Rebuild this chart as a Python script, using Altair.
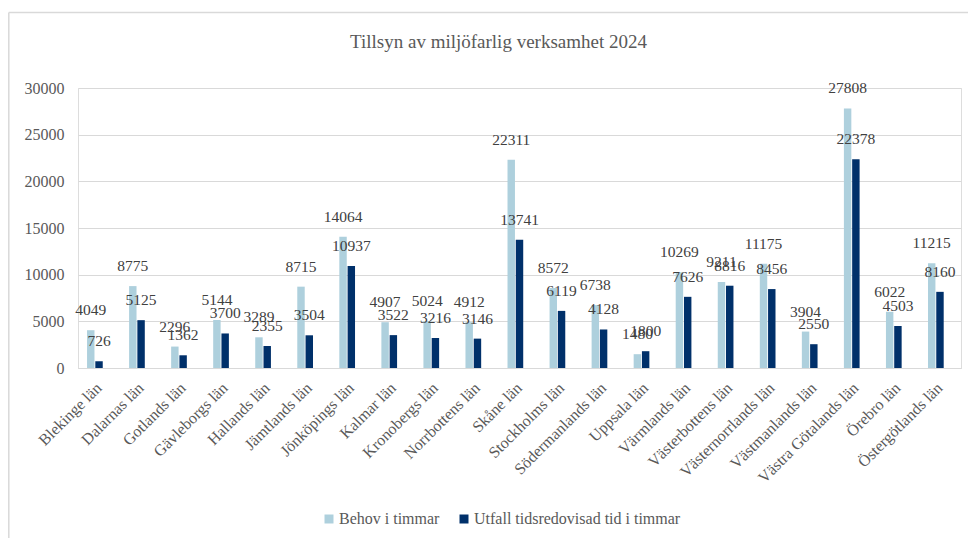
import altair as alt
import pandas as pd

categories = ["Blekinge län", "Dalarnas län", "Gotlands län", "Gävleborgs län", "Hallands län",
              "Jämtlands län", "Jönköpings län", "Kalmar län", "Kronobergs län", "Norrbottens län",
              "Skåne län", "Stockholms län", "Södermanlands län", "Uppsala län", "Värmlands län",
              "Västerbottens län", "Västernorrlands län", "Västmanlands län", "Västra Götalands län",
              "Örebro län", "Östergötlands län"]
behov = [4049, 8775, 2296, 5144, 3289, 8715, 14064, 4907, 5024, 4912, 22311, 8572, 6738, 1480,
         10269, 9211, 11175, 3904, 27808, 6022, 11215]
utfall = [726, 5125, 1362, 3700, 2355, 3504, 10937, 3522, 3216, 3146, 13741, 6119, 4128, 1800,
          7626, 8816, 8456, 2550, 22378, 4503, 8160]
series = ["Behov i timmar", "Utfall tidsredovisad tid i timmar"]
colors = ["#AED0DD", "#00306A"]

rows = []
for c, b, u in zip(categories, behov, utfall):
    rows.append({"lan": c, "serie": series[0], "varde": b})
    rows.append({"lan": c, "serie": series[1], "varde": u})
df = pd.DataFrame(rows)

font = "Liberation Serif"
gray = "#595959"

x_enc = alt.X("lan:N", sort=categories, title=None,
              scale=alt.Scale(paddingInner=0.43, paddingOuter=0.215),
              axis=alt.Axis(labelAngle=-45, labelFontSize=16, labelColor=gray, labelBaseline="middle",
                            labelAlign="right",
                            ticks=False, domainColor="#d9d9d9", labelPadding=17, labelLimit=300))
xo_enc = alt.XOffset("serie:N", scale=alt.Scale(domain=series + ["_tom"], paddingInner=0.1, paddingOuter=0))
y_enc = alt.Y("varde:Q", title=None,
              scale=alt.Scale(domain=[0, 30000]),
              axis=alt.Axis(values=[0, 5000, 10000, 15000, 20000, 25000, 30000], format="d",
                            labelFontSize=16, labelColor=gray, ticks=False, domain=False,
                            gridColor="#d9d9d9", labelPadding=14))

bars = alt.Chart(df).mark_bar().encode(
    x=x_enc, xOffset=xo_enc, y=y_enc,
    color=alt.Color("serie:N", scale=alt.Scale(domain=series, range=colors),
                    legend=alt.Legend(title=None, orient="none", direction="horizontal",
                                      legendX=243, legendY=423, symbolType="square", symbolSize=81,
                                      labelFontSize=16, labelColor=gray, labelLimit=400,
                                      labelOffset=2, columnPadding=16, symbolStrokeWidth=0)),
)

labels = alt.Chart(df).mark_text(font=font, fontSize=15.5, color="#404040",
                                 baseline="alphabetic", dy=-15).encode(
    x=x_enc, xOffset=xo_enc, y=y_enc, text=alt.Text("varde:Q", format="d"),
)

frame_df = pd.DataFrame({"k": [0]})
frame_left = alt.Chart(frame_df).mark_rule(color="#d9d9d9", strokeWidth=1.5, clip=False).encode(
    x=alt.value(-69.2), y=alt.value(-75.5), y2=alt.value(470))
frame_top = alt.Chart(frame_df).mark_rule(color="#d9d9d9", strokeWidth=1.5, clip=False).encode(
    y=alt.value(-75.5), x=alt.value(-69.2), x2=alt.value(900))

chart = alt.layer(bars, labels, frame_left, frame_top).properties(
    width=883, height=280,
    title=alt.TitleParams("Tillsyn av miljöfarlig verksamhet 2024", font=font, fontSize=19,
                          fontWeight="normal", color=gray, anchor="middle", dx=-21, offset=-40),
    autosize=alt.AutoSizeParams(type="none"),
    padding={"left": 70, "top": 80, "right": 7, "bottom": 170},
).configure_view(stroke=None).configure(background="white", font=font
).configure_axis(labelFont=font).configure_legend(labelFont=font)

chart.save("out.html", embed_options={"renderer": "svg", "actions": False})
